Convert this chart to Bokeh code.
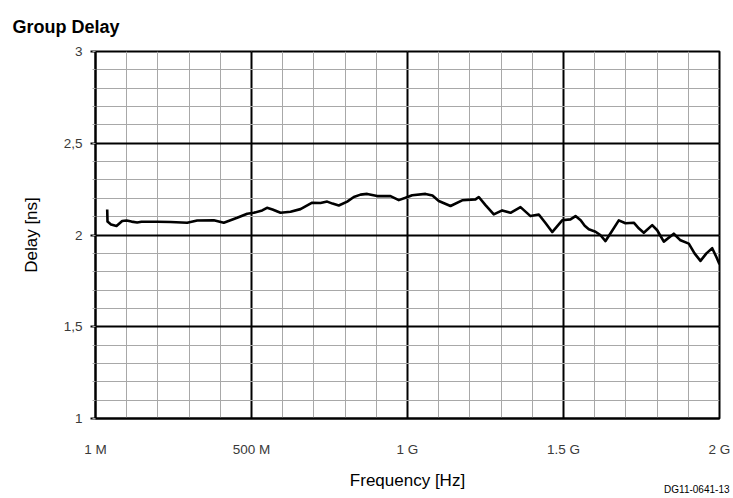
from bokeh.plotting import figure
from bokeh.models import FixedTicker, Range1d, Title
from bokeh.embed import file_html
from bokeh.resources import INLINE

# Frequency in MHz, delay in ns
freq_mhz = [37.5, 38.5, 49.7, 67.3, 85.6, 99.4, 115.4, 133.7, 147.4, 197.8,
            240.4, 293.9, 326.0, 379.2, 411.2, 454.2, 486.2, 507.4, 534.3, 549.7,
            567.3, 593.0, 625.0, 657.0, 694.6, 721.2, 742.6, 759.6, 779.8, 806.7,
            827.9, 849.4, 870.8, 902.9, 945.5, 972.1, 993.6, 1015.0, 1057.7, 1080.0,
            1100.3, 1137.8, 1175.3, 1217.9, 1228.5, 1250.0, 1276.6, 1303.5, 1330.1, 1362.2,
            1394.2, 1420.8, 1442.3, 1463.8, 1495.8, 1522.4, 1538.5, 1555.0, 1568.0, 1581.1,
            1602.6, 1618.0, 1634.6, 1655.0, 1677.2, 1698.7, 1725.3, 1742.0, 1757.4, 1784.3,
            1800.3, 1821.5, 1853.5, 1875.0, 1901.6, 1920.0, 1939.0, 1958.0, 1976.6, 1990.0,
            2000.0]
delay_ns = [2.139, 2.073, 2.057, 2.049, 2.076, 2.079, 2.073, 2.068, 2.072, 2.072,
            2.071, 2.067, 2.079, 2.080, 2.067, 2.094, 2.116, 2.121, 2.134, 2.148,
            2.139, 2.121, 2.127, 2.141, 2.176, 2.174, 2.182, 2.171, 2.161, 2.182,
            2.207, 2.220, 2.224, 2.212, 2.212, 2.190, 2.203, 2.217, 2.224, 2.215,
            2.185, 2.158, 2.189, 2.194, 2.207, 2.163, 2.112, 2.134, 2.121, 2.152,
            2.103, 2.112, 2.065, 2.016, 2.080, 2.085, 2.103, 2.080, 2.050, 2.031,
            2.018, 2.000, 1.967, 2.020, 2.080, 2.064, 2.067, 2.035, 2.012, 2.054,
            2.026, 1.964, 2.007, 1.971, 1.953, 1.900, 1.859, 1.900, 1.928, 1.880,
            1.840]

x_ticks = [0, 500, 1000, 1500, 2000]
x_tick_labels = ["1 M", "500 M", "1 G", "1.5 G", "2 G"]
x_minor = [0, 100, 200, 300, 400, 500, 600, 700, 800, 900, 1000,
           1100, 1200, 1300, 1400, 1500, 1600, 1700, 1800, 1900, 2000]
y_ticks = [1, 1.5, 2, 2.5, 3]
y_tick_labels = ["1", "1,5", "2", "2,5", "3"]
y_minor = [1.0, 1.1, 1.2, 1.3, 1.4, 1.5, 1.6, 1.7, 1.8, 1.9, 2.0,
           2.1, 2.2, 2.3, 2.4, 2.5, 2.6, 2.7, 2.8, 2.9, 3.0]

FONT = "Liberation Sans"

p = figure(width=733, height=498, output_backend="svg", toolbar_location=None,
           title=None, x_range=Range1d(0, 2000), y_range=Range1d(1, 3),
           min_border_left=95, min_border_right=14, min_border_top=50,
           min_border_bottom=80)
p.background_fill_color = "white"
p.border_fill_color = "white"
p.outline_line_color = "black"
p.outline_line_width = 2

p.line(freq_mhz, delay_ns, line_width=2.6, line_color="black", line_join="round")

# ticks & grids
p.xaxis.ticker = FixedTicker(ticks=x_ticks, minor_ticks=x_minor)
p.yaxis.ticker = FixedTicker(ticks=y_ticks, minor_ticks=y_minor)
p.xaxis.major_label_overrides = {t: l for t, l in zip(x_ticks, x_tick_labels)}
p.yaxis.major_label_overrides = {t: l for t, l in zip(y_ticks, y_tick_labels)}

for g in (p.xgrid, p.ygrid):
    g.grid_line_color = "black"
    g.grid_line_width = 2
    g.minor_grid_line_color = "#a8a8a8"
    g.minor_grid_line_width = 1

for ax in (p.xaxis, p.yaxis):
    ax.axis_line_color = "black"
    ax.axis_line_width = 2
    ax.major_label_text_font = FONT
    ax.major_label_text_font_size = "13.5px"
    ax.major_label_text_color = "#3a3a3a"
    ax.axis_label_text_font = FONT
    ax.axis_label_text_font_size = "17px"
    ax.axis_label_text_font_style = "normal"
    ax.axis_label_text_color = "black"

p.xaxis.major_tick_in = 0
p.xaxis.major_tick_out = 0
p.xaxis.minor_tick_line_color = None
p.xaxis.major_label_standoff = 19
p.xaxis.axis_label = "Frequency [Hz]"
p.xaxis.axis_label_standoff = 11

p.yaxis.major_tick_in = 0
p.yaxis.major_tick_out = 5
p.yaxis.major_tick_line_width = 2
p.yaxis.minor_tick_in = 0
p.yaxis.minor_tick_out = 3
p.yaxis.minor_tick_line_color = "#a8a8a8"
p.yaxis.major_label_standoff = 8
p.yaxis.axis_label = "Delay [ns]"
p.yaxis.axis_label_standoff = 20

title = Title(text="Group Delay", align="left", offset=-83, vertical_align="bottom",
              standoff=29, text_font=FONT, text_font_style="bold",
              text_font_size="18px", text_color="black")
p.add_layout(title, "above")

code = Title(text="DG11-0641-13", align="right", offset=-10, vertical_align="top",
             standoff=-17, text_font=FONT, text_font_style="normal",
             text_font_size="10px", text_color="black")
p.add_layout(code, "below")

open("out.html", "w").write(file_html(p, INLINE))
